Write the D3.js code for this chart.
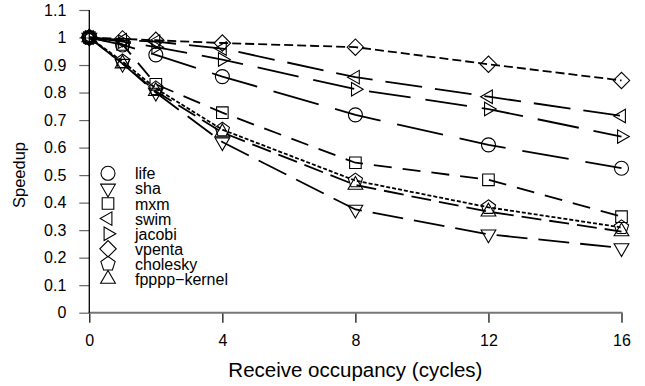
<!DOCTYPE html>
<html>
<head>
<meta charset="utf-8">
<script src="https://cdn.jsdelivr.net/npm/d3@7"></script>
<style>
  body { margin: 0; background: #fff; }
  text { font-family: "Liberation Sans", Arial, sans-serif; fill: #000; }
</style>
</head>
<body>
<div id="chart"></div>
<script>
const occupancy = [0, 1, 2, 4, 8, 12, 16];
const xTicks = [0, 4, 8, 12, 16];
const yTicks = [0, 0.1, 0.2, 0.3, 0.4, 0.5, 0.6, 0.7, 0.8, 0.9, 1, 1.1];
const benchmarks = ["life", "sha", "mxm", "swim", "jacobi", "vpenta", "cholesky", "fpppp\u2212kernel"];

const life = [1, 0.973, 0.937, 0.858, 0.719, 0.61, 0.525];
const sha = [1, 0.905, 0.8, 0.62, 0.375, 0.285, 0.235];
const mxm = [1, 0.975, 0.83, 0.727, 0.545, 0.483, 0.349];
const swim = [1, 0.99, 0.985, 0.96, 0.856, 0.785, 0.715];
const jacobi = [1, 0.985, 0.965, 0.92, 0.812, 0.74, 0.64];
const vpenta = [1, 0.995, 0.99, 0.98, 0.965, 0.903, 0.844];
const cholesky = [1, 0.913, 0.815, 0.665, 0.48, 0.383, 0.31];
const fpppp = [1, 0.905, 0.805, 0.655, 0.464, 0.367, 0.295];

const seriesValues = [life, sha, mxm, swim, jacobi, vpenta, cholesky, fpppp];
const markerTypes = ["circle", "down", "square", "left", "right", "diamond", "pentagon", "up"];
const dashes = ["47,17", "31,11", "18,11", "37,13", "42,15", "9,4", "4,2", "20,8"];

const width = 645, height = 386;
const svg = d3.select("#chart").append("svg")
  .attr("width", width)
  .attr("height", height);

const x = d3.scaleLinear().domain([0, 16]).range([89.3, 621.5]);
const y = d3.scaleLinear().domain([0, 1.1]).range([312.7, 10]);

// regular polygon around (0,0)
function polygon(n, r, rotDeg) {
  const p = d3.path();
  for (let i = 0; i < n; i++) {
    const a = (rotDeg * Math.PI) / 180 + (i * 2 * Math.PI) / n;
    const px = r * Math.cos(a), py = r * Math.sin(a);
    if (i === 0) p.moveTo(px, py); else p.lineTo(px, py);
  }
  p.closePath();
  return p.toString();
}

function markerPath(type) {
  switch (type) {
    case "circle": return d3.symbol(d3.symbolCircle, Math.PI * 49)();
    case "square": return polygon(4, 8.2, 45);
    case "up": return polygon(3, 8.5, -90);
    case "down": return polygon(3, 8.5, 90);
    case "left": return polygon(3, 7.8, 180);
    case "right": return polygon(3, 7.8, 0);
    case "diamond": return polygon(4, 8.2, 0);
    case "pentagon": return polygon(5, 7.5, -90);
  }
}

// axes
const yAxis = d3.axisLeft(y)
  .tickValues(yTicks)
  .tickSize(10)
  .tickSizeOuter(0)
  .tickPadding(13)
  .tickFormat(d3.format("~g"));

const gy = svg.append("g")
  .attr("transform", `translate(${x(0)},0)`)
  .call(yAxis);
gy.select(".domain").remove();
gy.selectAll(".tick line").attr("stroke", "#666").attr("stroke-width", 1.2);
gy.selectAll(".tick text").attr("font-size", 16).attr("font-family", "Liberation Sans, Arial, sans-serif");

const xAxis = d3.axisBottom(x)
  .tickValues(xTicks)
  .tickSize(10)
  .tickSizeOuter(0)
  .tickPadding(12);

const gx = svg.append("g")
  .attr("transform", `translate(0,${y(0)})`)
  .call(xAxis);
gx.select(".domain").remove();
gx.selectAll(".tick line").attr("stroke", "#000").attr("stroke-width", 1.2);
gx.selectAll(".tick text").attr("font-size", 16).attr("font-family", "Liberation Sans, Arial, sans-serif");

svg.append("line")
  .attr("x1", x(0) - 1).attr("x2", x(16) + 1)
  .attr("y1", y(0)).attr("y2", y(0))
  .attr("stroke", "#777").attr("stroke-width", 2);

svg.append("line")
  .attr("x1", x(0)).attr("x2", x(0))
  .attr("y1", y(0)).attr("y2", y(1.1))
  .attr("stroke", "#000").attr("stroke-width", 1.3);

svg.append("text")
  .attr("x", (x(0) + x(16)) / 2)
  .attr("y", 377)
  .attr("text-anchor", "middle")
  .attr("font-size", 20.5)
  .text("Receive occupancy (cycles)");

svg.append("text")
  .attr("transform", "translate(24.5,175) rotate(-90)")
  .attr("text-anchor", "middle")
  .attr("font-size", 16.5)
  .text("Speedup");

// series
const line = d3.line()
  .x((d, i) => x(occupancy[i]))
  .y(d => y(d));

seriesValues.forEach(function (values, k) {
  svg.append("path")
    .attr("d", line(values))
    .attr("fill", "none")
    .attr("stroke", "#000")
    .attr("stroke-width", 1.8)
    .attr("stroke-dasharray", dashes[k]);

  svg.append("g")
    .selectAll("path")
    .data(values)
    .join("path")
    .attr("transform", (d, i) => `translate(${x(occupancy[i])},${y(d)})`)
    .attr("d", markerPath(markerTypes[k]))
    .attr("fill", "none")
    .attr("stroke", "#000")
    .attr("stroke-width", 1.1);
});

// legend
const legend = svg.append("g");
benchmarks.forEach(function (name, k) {
  const ly = 173.3 + k * 15.1;
  legend.append("path")
    .attr("transform", `translate(108,${ly})`)
    .attr("d", markerPath(markerTypes[k]))
    .attr("fill", "none")
    .attr("stroke", "#000")
    .attr("stroke-width", 1.1);
  legend.append("text")
    .attr("x", 135)
    .attr("y", ly + 6)
    .attr("font-size", 16)
    .text(name);
});
</script>
</body>
</html>
